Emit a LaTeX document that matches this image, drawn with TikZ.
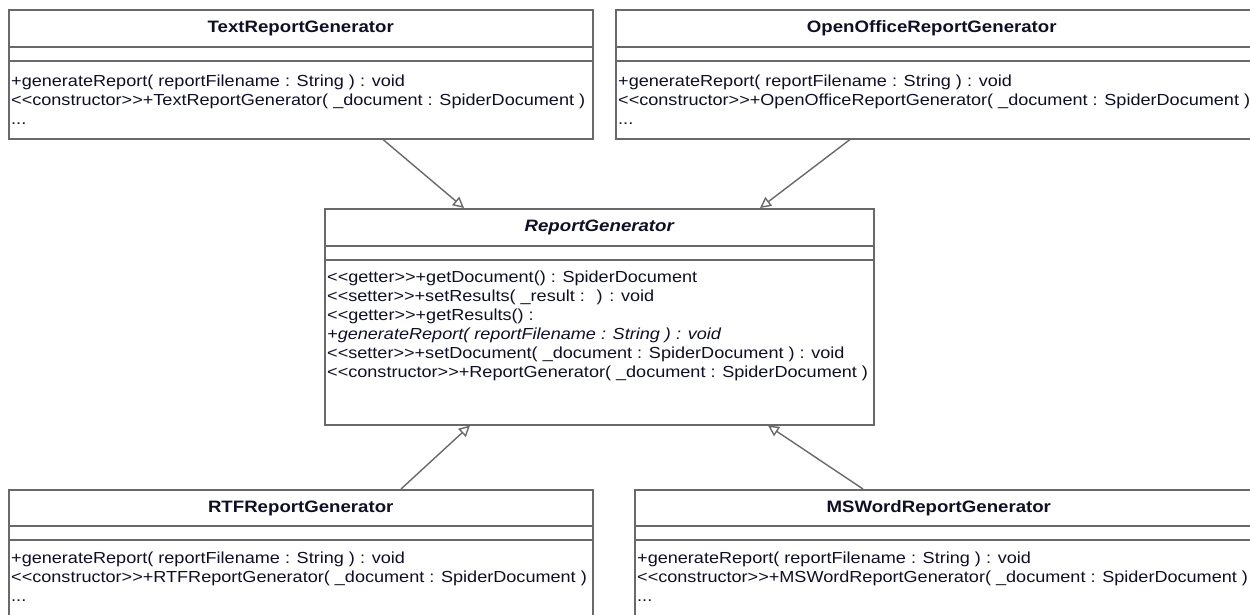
\documentclass[tikz,border=0pt]{standalone}
\usepackage{fontspec}
\setmainfont{Liberation Sans}[FakeStretch=1.13]
\usetikzlibrary{arrows.meta,calc}
\definecolor{boxline}{RGB}{105,105,105}
\definecolor{txt}{RGB}{15,15,40}
\newcommand\stereo[1]{<\kern0pt<#1>\kern0pt>}
\tikzset{
  cls/.style={draw=boxline, line width=1.5pt, fill=white, rectangle, anchor=north west, inner sep=0pt},
  divider/.style={draw=boxline, line width=1.5pt},
  title/.style={inner sep=0pt, text=txt, font=\fontsize{16.5}{18}\selectfont\bfseries},
  meth/.style={inner sep=0pt, anchor=base west, text=txt, font=\fontsize{16}{18}\selectfont},
  gen/.style={draw=boxline, line width=1.4pt, -{Triangle[open, length=11pt, width=11pt]}}
}
\begin{document}
\begin{tikzpicture}[x=1pt, y=-1pt]
\useasboundingbox (0,0) rectangle (1250,614);
\clip (0,0) rectangle (1250,614);
% TextReportGenerator
\node[cls, minimum width=584, minimum height=129] (trg) at (8,9) {};
\draw[divider] ($(trg.north west)+(0,38)$) -- ($(trg.north east)+(0,38)$);
\draw[divider] ($(trg.north west)+(0,52)$) -- ($(trg.north east)+(0,52)$);
\node[title] (trgT) at ($(trg.north)+(0,19)$) {TextReportGenerator};
\node[meth] (trg1) at ($(trg.north west)+(3,77)$) {+generateReport( reportFilename : String ) : void};
\node[meth] (trg2) at ($(trg.north west)+(3,96)$) {\stereo{constructor}+TextReportGenerator( \_document : SpiderDocument )};
\node[meth] (trg3) at ($(trg.north west)+(3,115)$) {...};
% OpenOfficeReportGenerator
\node[cls, minimum width=640, minimum height=129] (oorg) at (615,9) {};
\draw[divider] ($(oorg.north west)+(0,38)$) -- ($(oorg.north east)+(0,38)$);
\draw[divider] ($(oorg.north west)+(0,52)$) -- ($(oorg.north east)+(0,52)$);
\node[title] (oorgT) at ($(oorg.north)+(-4,19)$) {OpenOfficeReportGenerator};
\node[meth] (oorg1) at ($(oorg.north west)+(3,77)$) {+generateReport( reportFilename : String ) : void};
\node[meth] (oorg2) at ($(oorg.north west)+(3,96)$) {\stereo{constructor}+OpenOfficeReportGenerator( \_document : SpiderDocument )};
\node[meth] (oorg3) at ($(oorg.north west)+(3,115)$) {...};
% ReportGenerator
\node[cls, minimum width=549, minimum height=216] (rg) at (324,208) {};
\draw[divider] ($(rg.north west)+(0,38)$) -- ($(rg.north east)+(0,38)$);
\draw[divider] ($(rg.north west)+(0,52)$) -- ($(rg.north east)+(0,52)$);
\node[title, font=\fontsize{16.5}{18}\selectfont\bfseries\itshape] (rgT) at ($(rg.north)+(0,19)$) {ReportGenerator};
\node[meth] (rg1) at ($(rg.north west)+(3,74)$) {\stereo{getter}+getDocument() : SpiderDocument};
\node[meth] (rg2) at ($(rg.north west)+(3,93)$) {\stereo{setter}+setResults( \_result :~ ) : void};
\node[meth] (rg3) at ($(rg.north west)+(3,112)$) {\stereo{getter}+getResults() :};
\node[meth, font=\fontsize{16}{18}\selectfont\itshape] (rg4) at ($(rg.north west)+(3,131)$) {+generateReport( reportFilename : String ) : void};
\node[meth] (rg5) at ($(rg.north west)+(3,150)$) {\stereo{setter}+setDocument( \_document : SpiderDocument ) : void};
\node[meth] (rg6) at ($(rg.north west)+(3,169)$) {\stereo{constructor}+ReportGenerator( \_document : SpiderDocument )};
% RTFReportGenerator
\node[cls, minimum width=584, minimum height=140] (rtf) at (8,489) {};
\draw[divider] ($(rtf.north west)+(0,37)$) -- ($(rtf.north east)+(0,37)$);
\draw[divider] ($(rtf.north west)+(0,51)$) -- ($(rtf.north east)+(0,51)$);
\node[title] (rtfT) at ($(rtf.north)+(0,19)$) {RTFReportGenerator};
\node[meth] (rtf1) at ($(rtf.north west)+(3,74)$) {+generateReport( reportFilename : String ) : void};
\node[meth] (rtf2) at ($(rtf.north west)+(3,93)$) {\stereo{constructor}+RTFReportGenerator( \_document : SpiderDocument )};
\node[meth] (rtf3) at ($(rtf.north west)+(3,112)$) {...};
% MSWordReportGenerator
\node[cls, minimum width=620, minimum height=140] (msw) at (634,489) {};
\draw[divider] ($(msw.north west)+(0,37)$) -- ($(msw.north east)+(0,37)$);
\draw[divider] ($(msw.north west)+(0,51)$) -- ($(msw.north east)+(0,51)$);
\node[title] (mswT) at ($(msw.north)+(-6,19)$) {MSWordReportGenerator};
\node[meth] (msw1) at ($(msw.north west)+(3,74)$) {+generateReport( reportFilename : String ) : void};
\node[meth] (msw2) at ($(msw.north west)+(3,93)$) {\stereo{constructor}+MSWordReportGenerator( \_document : SpiderDocument )};
\node[meth] (msw3) at ($(msw.north west)+(3,112)$) {...};
% generalizations
\draw[gen] ($(trg.south west)+(375,0)$) -- ($(rg.north west)+(140,0)$);
\draw[gen] ($(oorg.south west)+(235,0)$) -- ($(rg.north west)+(436,0)$);
\draw[gen] ($(rtf.north west)+(393,0)$) -- ($(rg.south west)+(146,0)$);
\draw[gen] ($(msw.north west)+(229,0)$) -- ($(rg.south west)+(444,0)$);
\end{tikzpicture}
\end{document}
